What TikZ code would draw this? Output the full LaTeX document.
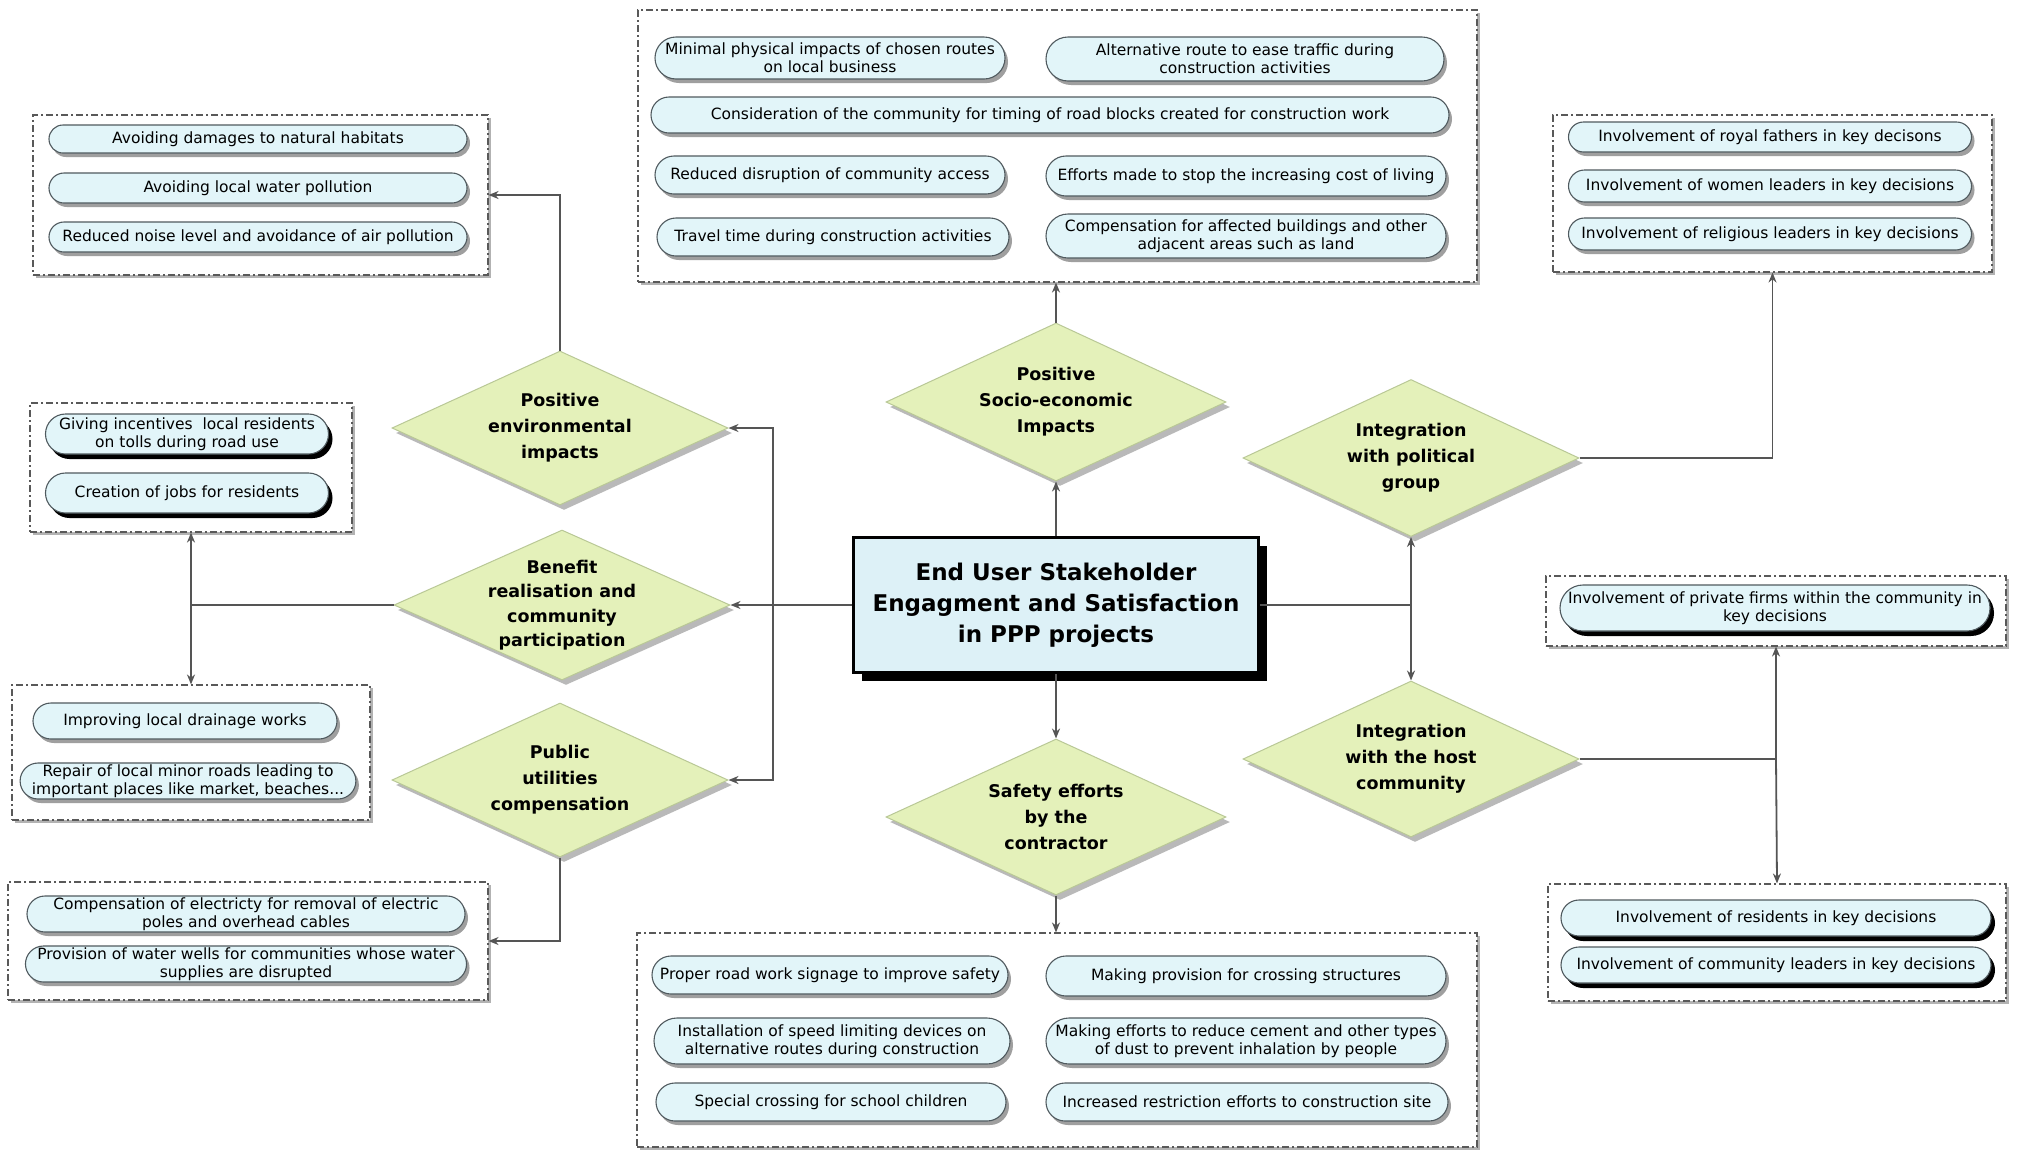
\documentclass[tikz,border=0pt]{standalone}
\usepackage{fontspec}
\setmainfont{DejaVu Sans}
\usetikzlibrary{shapes.geometric,shapes.misc,shadows,arrows.meta}
\definecolor{pillfill}{RGB}{226,245,249}
\definecolor{pilldraw}{RGB}{80,90,95}
\definecolor{diafill}{RGB}{228,241,186}
\definecolor{diadraw}{RGB}{185,200,150}
\definecolor{cenfill}{RGB}{221,241,247}
\definecolor{linecol}{RGB}{85,85,85}
\begin{document}
\begin{tikzpicture}[x=1pt,y=-1pt,
 pillbase/.style={rounded rectangle, draw=pilldraw, line width=1.1pt, fill=pillfill, align=center, inner sep=1pt, font=\fontsize{15.5}{18}\selectfont},
 pill/.style={pillbase, drop shadow={shadow xshift=3pt,shadow yshift=-4pt,fill=gray!75,opacity=1}},
 pillk/.style={pillbase, drop shadow={shadow xshift=4pt,shadow yshift=-5pt,fill=black,opacity=1}},
 group/.style={draw=gray!70!black, dash pattern=on 7pt off 3pt on 2pt off 3pt, line width=1.1pt, fill=white, inner sep=0pt, drop shadow={shadow xshift=3pt,shadow yshift=-3pt,fill=gray!60,opacity=1}},
 dia/.style={diamond, draw=diadraw, line width=1pt, fill=diafill, minimum width=336pt, minimum height=154pt, inner sep=0pt, drop shadow={shadow xshift=4pt,shadow yshift=-5pt,fill=gray!55,opacity=1}},
 diat/.style={align=center, font=\bfseries\fontsize{17.5}{26}\selectfont, inner sep=0pt},
 arr/.style={draw=linecol, line width=1.8pt, -{Stealth[length=10pt,width=8pt]}},
 ln/.style={draw=linecol, line width=1.8pt},
]
\useasboundingbox (0,0) rectangle (2026,1152);
\fill[white] (0,0) rectangle (2026,1152);

% group boxes
\node[group, minimum width=455pt, minimum height=160pt] (envbox) at (260.5,195) {};
\node[group, minimum width=322pt, minimum height=129pt] (incbox) at (191,467.5) {};
\node[group, minimum width=358pt, minimum height=135pt] (infbox) at (191,752.5) {};
\node[group, minimum width=480pt, minimum height=118pt] (utilbox) at (248,941) {};
\node[group, minimum width=839pt, minimum height=272pt] (topbox) at (1057.5,146) {};
\node[group, minimum width=840pt, minimum height=214pt] (botbox) at (1057,1040) {};
\node[group, minimum width=439pt, minimum height=157pt] (trbox) at (1772.5,193.5) {};
\node[group, minimum width=460pt, minimum height=70pt] (privbox) at (1776,611) {};
\node[group, minimum width=458pt, minimum height=117pt] (resbox) at (1777,942.5) {};

% environmental pills
\node[pill, minimum width=420pt, minimum height=28pt] (e1) at (258,139) {Avoiding damages to natural habitats};
\node[pill, minimum width=420pt, minimum height=30pt] (e2) at (258,188) {Avoiding local water pollution};
\node[pill, minimum width=420pt, minimum height=30pt] (e3) at (258,237) {Reduced noise level and avoidance of air pollution};

% incentives
\node[pillk, minimum width=285pt, minimum height=40pt] (i1) at (187,434) {Giving incentives\ \ local residents\\on tolls during road use};
\node[pillk, minimum width=285pt, minimum height=40pt] (i2) at (187,493) {Creation of jobs for residents};

% infrastructure
\node[pill, minimum width=306pt, minimum height=36pt] (f1) at (185,721) {Improving local drainage works};
\node[pill, minimum width=318pt, minimum height=36pt] (f2) at (188,781) {Repair of local minor roads leading to\\important places like market, beaches...};

% utilities
\node[pill, minimum width=440pt, minimum height=36pt] (u1) at (246,914) {Compensation of electricty for removal of electric\\poles and overhead cables};
\node[pill, minimum width=440pt, minimum height=36pt] (u2) at (246,964) {Provision of water wells for communities whose water\\supplies are disrupted};

% top socio-economic
\node[pill, minimum width=352pt, minimum height=42pt] (t1) at (830,58) {Minimal physical impacts of chosen routes\\on local business};
\node[pill, minimum width=400pt, minimum height=44pt] (t2) at (1245,59) {Alternative route to ease traffic during\\construction activities};
\node[pill, minimum width=800pt, minimum height=36pt] (t3) at (1050,115) {Consideration of the community for timing of road blocks created for construction work};
\node[pill, minimum width=352pt, minimum height=38pt] (t4) at (830,175) {Reduced disruption of community access};
\node[pill, minimum width=402pt, minimum height=40pt] (t5) at (1246,176) {Efforts made to stop the increasing cost of living};
\node[pill, minimum width=354pt, minimum height=38pt] (t6) at (833,237) {Travel time during construction activities};
\node[pill, minimum width=402pt, minimum height=44pt] (t7) at (1246,236) {Compensation for affected buildings and other\\adjacent areas such as land};

% bottom safety
\node[pill, minimum width=358pt, minimum height=38pt] (b1) at (830,975) {Proper road work signage to improve safety};
\node[pill, minimum width=402pt, minimum height=40pt] (b2) at (1246,976) {Making provision for crossing structures};
\node[pill, minimum width=358pt, minimum height=46pt] (b3) at (832,1041) {Installation of speed limiting devices on\\alternative routes during construction};
\node[pill, minimum width=402pt, minimum height=46pt] (b4) at (1246,1041) {Making efforts to reduce cement and other types\\of dust to prevent inhalation by people};
\node[pill, minimum width=352pt, minimum height=38pt] (b5) at (831,1102) {Special crossing for school children};
\node[pill, minimum width=404pt, minimum height=38pt] (b6) at (1247,1102) {Increased restriction efforts to construction site};

% top right political
\node[pill, minimum width=405pt, minimum height=30pt] (r1) at (1770,137) {Involvement of royal fathers in key decisons};
\node[pill, minimum width=405pt, minimum height=32pt] (r2) at (1770,186) {Involvement of women leaders in key decisions};
\node[pill, minimum width=405pt, minimum height=32pt] (r3) at (1770,234) {Involvement of religious leaders in key decisions};

% host community
\node[pillk, minimum width=432pt, minimum height=46pt] (p1) at (1775,608) {Involvement of private firms within the community in\\key decisions};
\node[pillk, minimum width=432pt, minimum height=36pt] (s1) at (1776,918) {Involvement of residents in key decisions};
\node[pillk, minimum width=432pt, minimum height=36pt] (s2) at (1776,965) {Involvement of community leaders in key decisions};

% central box
\node[draw=black, line width=2.5pt, fill=cenfill, minimum width=405pt, minimum height=135pt, align=center, font=\bfseries\fontsize{23}{31}\selectfont, drop shadow={shadow xshift=8pt,shadow yshift=-8pt,fill=black,opacity=1}] (cen) at (1056,605) {End User Stakeholder\\Engagment and Satisfaction\\in PPP projects};

% diamonds
\node[dia] (env) at (560,428) {};
\node[diat] (envt) at (env) {Positive\\environmental\\impacts};
\node[dia, minimum height=150pt] (benefit) at (562,605) {};
\node[diat, font=\bfseries\fontsize{17.5}{24.5}\selectfont] (benefitt) at (benefit) {Benefit\\realisation and\\community\\participation};
\node[dia] (public) at (560,780) {};
\node[diat] (publict) at (public) {Public\\utilities\\compensation};
\node[dia, minimum width=340pt, minimum height=158pt] (socio) at (1056,402) {};
\node[diat] (sociot) at (socio) {Positive\\Socio-economic\\Impacts};
\node[dia, minimum width=340pt, minimum height=156pt] (safety) at (1056,817) {};
\node[diat] (safetyt) at (safety) {Safety efforts\\by the\\contractor};
\node[dia, minimum height=157pt] (political) at (1411,458) {};
\node[diat] (politicalt) at (political) {Integration\\with political\\group};
\node[dia, minimum height=156pt] (host) at (1411,759) {};
\node[diat] (hostt) at (host) {Integration\\with the host\\community};

% connectors
\draw[arr] (cen.north) -- (socio.south);
\draw[arr] (socio.north) -- (socio.north |- topbox.south);
\draw[arr] (cen.south) -- (safety.north);
\draw[arr] (safety.south) -- (safety.south |- botbox.north);
\draw[arr] (cen.west) -- (benefit.east);
\coordinate (jl) at (773,605);
\draw[arr] (jl) |- (env.east);
\draw[arr] (jl) |- (public.east);
\draw[arr] (env.north) |- (envbox.east);
\draw[arr] (public.south) |- (utilbox.east);
\coordinate (jbl) at (incbox.south |- benefit.west);
\draw[ln] (benefit.west) -- (jbl);
\draw[arr] (jbl) -- (incbox.south);
\draw[arr] (jbl) -- (infbox.north);
\coordinate (jr) at (political.south |- cen.east);
\draw[ln] (cen.east) -- (jr);
\draw[arr] (jr) -- (political.south);
\draw[arr] (jr) -- (host.north);
\draw[arr] (political.east) -| (trbox.south);
\coordinate (jhr) at (privbox.south |- host.east);
\draw[ln] (host.east) -- (jhr);
\draw[arr] (jhr) -- (privbox.south);
\draw[arr] (jhr) -- (resbox.north);
\end{tikzpicture}
\end{document}
